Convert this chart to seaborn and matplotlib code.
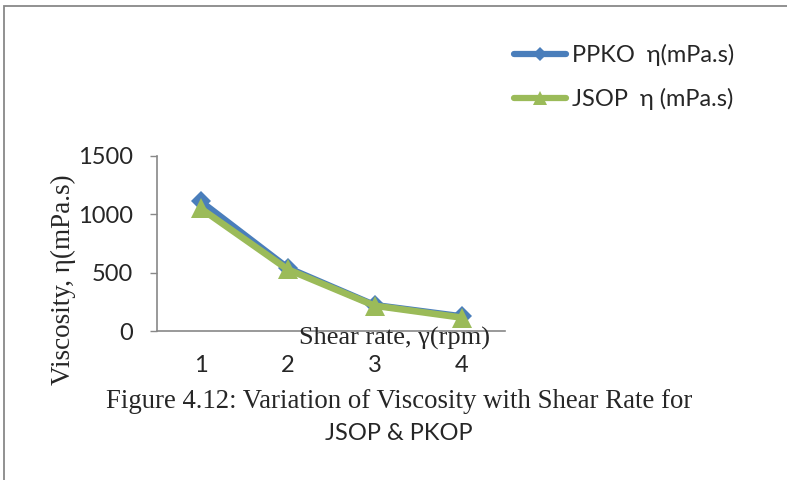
import matplotlib
matplotlib.use("Agg")
import matplotlib.pyplot as plt
import seaborn as sns
import pandas as pd
from matplotlib.patches import Rectangle

shear_rate = [1, 2, 3, 4]
ppko = [1112, 542, 222, 125]
jsop = [1052, 529, 217, 115]
series_names = ["PPKO  η(mPa.s)", "JSOP  η (mPa.s)"]
yticks = [0, 500, 1000, 1500]

df = pd.DataFrame({
    "x": shear_rate * 2,
    "y": ppko + jsop,
    "series": [series_names[0]] * 4 + [series_names[1]] * 4,
})

sns.set_style("white")
SANS = ["Lato", "DejaVu Sans"]
SERIF = ["Liberation Serif", "DejaVu Serif"]

W, H = 787, 480
fig = plt.figure(figsize=(7.87, 4.8), dpi=100)
ax = fig.add_axes([157 / W, 1 - 331 / H, (505 - 157) / W, (331 - 156) / H])

colors = ["#4A7EBB", "#9BBB59"]
sns.lineplot(data=df, x="x", y="y", hue="series", style="series",
             palette=colors, markers=["D", "^"], dashes=False,
             linewidth=4.8, markersize=10, markeredgewidth=0, ax=ax, legend=True)
lines = ax.get_lines()
lines[1].set_markersize(14.5)

ax.set_xlim(0.5, 4.5)
ax.set_ylim(0, 1500)
ax.set_xticks(shear_rate)
ax.set_xticklabels([str(v) for v in shear_rate], fontsize=17, family=SANS)
ax.set_yticks(yticks)
ax.set_yticklabels([str(v) for v in yticks], fontsize=17, family=SANS)
ax.tick_params(axis="x", length=0, pad=17)
ax.tick_params(axis="y", length=5, width=1, color="#888888", pad=12, left=True)
for s in ["top", "right"]:
    ax.spines[s].set_visible(False)
for s in ["left", "bottom"]:
    ax.spines[s].set_color("#888888")
    ax.spines[s].set_linewidth(1.2)
ax.set_xlabel("")
ax.set_ylabel("")

fig.text(395 / W, 1 - 345 / H, "Shear rate, γ(rpm)", family=SERIF,
         fontsize=19, ha="center", va="baseline")
fig.text(63 / W, 1 - 280 / H, "Viscosity, η(mPa.s)", family=SERIF,
         fontsize=19.5, ha="center", va="center", rotation=90)
fig.text(399 / W, 1 - 408 / H, "Figure 4.12: Variation of Viscosity with Shear Rate for",
         family=SERIF, fontsize=19.3, ha="center", va="baseline")
fig.text(399 / W, 1 - 440 / H, "JSOP & PKOP", family=SANS,
         fontsize=17, ha="center", va="baseline")

leg = ax.legend(loc="upper left", bbox_to_anchor=(502 / W, 1 - 32 / H),
                bbox_transform=fig.transFigure, frameon=False,
                prop={"family": SANS, "size": 17}, handlelength=2.2,
                labelspacing=0.95, handletextpad=0.25, borderpad=0)
for h, ms in zip(leg.legend_handles, [7, 10]):
    h.set_markersize(ms)
    h.set_linewidth(4.5)

fig.patches.append(Rectangle((4 / W, -0.1), 1.2, 1 - 6 / H + 0.1,
                             transform=fig.transFigure, fill=False,
                             edgecolor="#888888", linewidth=1.3))

fig.savefig("out.png", dpi=100)
